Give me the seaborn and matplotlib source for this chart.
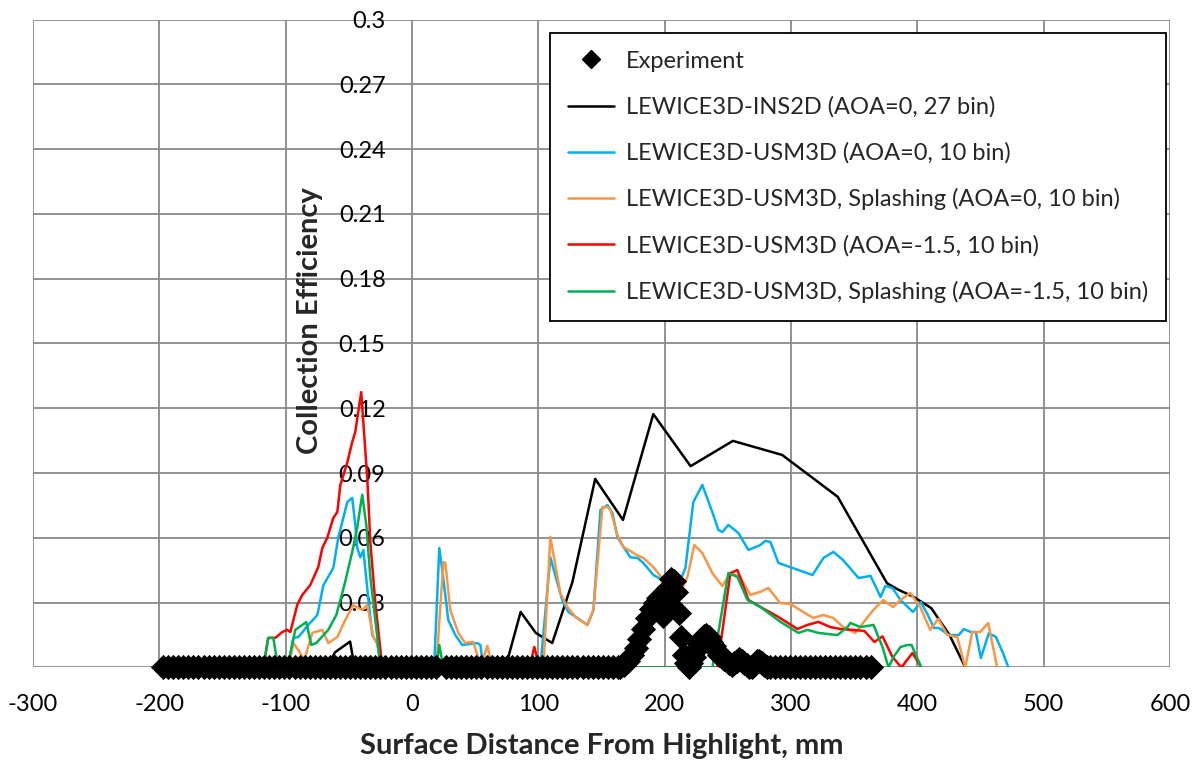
import matplotlib
matplotlib.use("Agg")
import matplotlib.pyplot as plt
import seaborn as sns
import pandas as pd
from matplotlib.lines import Line2D

# ---------------- data ----------------
x_ticks = [-300, -200, -100, 0, 100, 200, 300, 400, 500, 600]
x_tick_labels = ["-300", "-200", "-100", "0", "100", "200", "300", "400", "500", "600"]
y_ticks = [0, 0.03, 0.06, 0.09, 0.12, 0.15, 0.18, 0.21, 0.24, 0.27, 0.3]
y_tick_labels = ["", "0.03", "0.06", "0.09", "0.12", "0.15", "0.18", "0.21", "0.24", "0.27", "0.3"]

labels = ["Experiment",
          "LEWICE3D-INS2D (AOA=0, 27 bin)",
          "LEWICE3D-USM3D (AOA=0, 10 bin)",
          "LEWICE3D-USM3D, Splashing (AOA=0, 10 bin)",
          "LEWICE3D-USM3D (AOA=-1.5, 10 bin)",
          "LEWICE3D-USM3D, Splashing (AOA=-1.5, 10 bin)"]

# Experiment: flat (zero) stations and the measured hump
exp_flat_x = [-197, -193, -189, -185, -181, -177, -173, -169, -165, -161, -157, -153, -149,
              -145, -141, -137, -133, -129, -125, -121, -117, -113, -109, -105, -101, -97,
              -93, -89, -85, -81, -77, -73, -69, -65, -61, -57, -53, -49, -45, -41, -37,
              -33, -29, -25, -21, -17, -13, -9, -5, -1, 3, 7, 11, 15, 19, 27, 31, 35, 39,
              43, 47, 51, 55, 59, 63, 67, 71, 75, 79, 83, 87, 91, 95, 99, 103, 107, 111,
              115, 119, 123, 127, 131, 135, 139, 143, 147, 151, 155, 159, 163,
              287, 291, 295, 299, 303, 307, 311, 315, 319, 323, 327, 331, 335, 339, 343,
              347, 351, 355, 359, 363]
exp_flat_y = [0.0] * len(exp_flat_x)
exp_hump_x = [165, 168, 171, 174, 177, 180, 183, 186, 189, 192, 195, 197, 199, 201, 203,
              205, 207, 209, 211, 213, 215, 217, 219, 221, 223, 225, 227, 229, 231, 233,
              235, 237, 239, 241, 243, 245, 247, 249, 251, 253, 255, 257, 259, 261, 263,
              265, 267, 269, 271, 273, 275, 277, 279, 281, 283]
exp_hump_y = [0.0, 0.001, 0.003, 0.006, 0.009, 0.013, 0.018, 0.023, 0.027, 0.030, 0.032,
              0.028, 0.024, 0.030, 0.037, 0.041, 0.040, 0.035, 0.025, 0.014, 0.006, 0.002,
              0.0, 0.002, 0.005, 0.008, 0.011, 0.013, 0.0145, 0.015, 0.014, 0.012, 0.010,
              0.008, 0.006, 0.005, 0.004, 0.003, 0.002, 0.001, 0.002, 0.003, 0.004, 0.003,
              0.002, 0.001, 0.0, 0.0, 0.001, 0.003, 0.003, 0.002, 0.001, 0.0, 0.0]

ins2d_x = [-67, -61, -49, -46.5, -43, 74, 86, 98, 111, 127, 145, 167, 191, 220.5, 254,
           293, 337, 376, 385, 397, 411, 425.5, 438]
ins2d_y = [0, 0.007, 0.012, 0.0035, 0, 0, 0.0257, 0.016, 0.0113, 0.0396, 0.0873, 0.0683,
           0.1173, 0.0932, 0.1049, 0.0984, 0.079, 0.039, 0.036, 0.0327, 0.0275, 0.015, 0]

usm_x = [-97.8, -93.9, -89.9, -82.1, -74.9, -70.2, -62.3, -58.4, -51.2, -47.3, -44.9, -43.3,
         -40.9, -38.5, -34.6, -31.4, -27.5, -25.1, -23.5, 17.5, 21.6, 24.0, 28.7, 34.3,
         39.8, 51.7, 54.1, 55.7, 57, 101.6, 109.5, 119, 123.8, 130.9, 138.9, 143.6, 149.2,
         154.7, 158.6, 162.6, 167.4, 172.9, 178.5, 183.1, 191.1, 198.2, 212.5, 216.4,
         222.7, 229.8, 237.7, 242.5, 245.7, 250.4, 258.3, 266.3, 275.8, 279.7, 283.7, 290,
         317, 325.7, 333.6, 341.1, 353.5, 363, 370.9, 374.7, 380.3, 386.6, 396.5, 402.8,
         408.3, 413.1, 417, 424.9, 432.8, 436.8, 442.3, 446.3, 450.3, 456.6, 462.2, 467.8,
         472.1]
usm_y = [0, 0.0137, 0.0141, 0.0197, 0.0243, 0.038, 0.046, 0.06, 0.0766, 0.0785, 0.066,
         0.0553, 0.051, 0.0543, 0.032, 0.015, 0.011, 0.0035, 0, 0, 0.0553, 0.045, 0.022,
         0.015, 0.0104, 0.0113, 0.0104, 0.0035, 0, 0, 0.051, 0.031, 0.0257, 0.0229, 0.0197,
         0.0266, 0.0729, 0.0752, 0.0715, 0.0604, 0.0558, 0.051, 0.0507, 0.0484, 0.0428,
         0.0405, 0.0405, 0.046, 0.0766, 0.0845, 0.072, 0.0637, 0.0627, 0.066, 0.0623,
         0.0544, 0.0567, 0.0586, 0.0581, 0.0484, 0.0428, 0.0507, 0.0535, 0.0498, 0.0414,
         0.0424, 0.0326, 0.0377, 0.0368, 0.0313, 0.0257, 0.0303, 0.0243, 0.0183, 0.0183,
         0.015, 0.015, 0.0178, 0.0164, 0.0164, 0.0044, 0.0159, 0.0141, 0.0067, 0]

usm_spl_x = [-97.9, -93.9, -90.0, -85.3, -78.9, -71.0, -66.3, -59.1, -52.8, -46.5, -39.4,
             -35.4, -30.6, -27.5, -24.3, 19.2, 24.8, 26.4, 30.3, 36.7, 42.2, 48.5, 52.5,
             54.1, 59.6, 63.6, 104, 109.5, 117.4, 123, 129.3, 138.8, 143.6, 150.7, 154.7,
             157.1, 162.6, 167.4, 179.3, 183.1, 191.1, 199, 212.5, 218, 223.5, 229.8, 237.7,
             245.7, 252, 259.9, 267.8, 275.8, 282, 291.5, 299.4, 307.3, 317.6, 325.6, 333.4,
             341.4, 350.9, 365.1, 373, 380.9, 386.5, 394.4, 402.3, 410.2, 416.6, 423.7,
             431.6, 437.9, 443.5, 449.8, 456.1, 463.2]
usm_spl_y = [0, 0.0113, 0.0081, 0.0035, 0.016, 0.0174, 0.0113, 0.0141, 0.022, 0.0289,
             0.0266, 0.0289, 0.0141, 0.0113, 0, 0, 0.0488, 0.0484, 0.0266, 0.016, 0.0113,
             0.0118, 0.0044, 0, 0.01, 0, 0, 0.0604, 0.0344, 0.028, 0.0234, 0.0197, 0.0266,
             0.0743, 0.0743, 0.0729, 0.0613, 0.0558, 0.0516, 0.0507, 0.0465, 0.0405, 0.035,
             0.0419, 0.0567, 0.053, 0.0437, 0.0377, 0.0437, 0.0419, 0.0336, 0.035, 0.0368,
             0.0298, 0.0294, 0.0266, 0.0229, 0.0243, 0.0229, 0.0187, 0.016, 0.0266, 0.0312,
             0.028, 0.0312, 0.0345, 0.028, 0.0174, 0.0225, 0.015, 0.0141, 0, 0.0164, 0.0164,
             0.0206, 0]

usm15_x = [-117.7, -113.8, -108.2, -102.7, -98.7, -96.3, -90.8, -86.8, -80.5, -74.2, -71.0,
           -67.1, -62.3, -59.1, -56.7, -51.2, -47.3, -44.9, -40.2, -35.4, -33.0, -29.1,
           -23.5, 93, 96.8, 101, 241.7, 252, 257.6, 266.3, 275.8, 290, 305.1, 313, 321.7,
           331.2, 339.1, 348.6, 358.1, 366, 372.4, 380.3, 387.4, 396.1, 403.2]
usm15_y = [0, 0.0137, 0.0137, 0.0164, 0.0174, 0.0164, 0.029, 0.0336, 0.0382, 0.0465,
           0.0553, 0.06, 0.0692, 0.072, 0.0845, 0.095, 0.1044, 0.109, 0.1275, 0.0877,
           0.0581, 0.0303, 0, 0, 0.0095, 0, 0, 0.0437, 0.0451, 0.0313, 0.028, 0.0234,
           0.0178, 0.0197, 0.0211, 0.0187, 0.0178, 0.0174, 0.0169, 0.0118, 0.0144, 0.0049,
           0, 0.0067, 0]

usm15_spl_x = [-117.7, -113.8, -109.8, -105.9, -98.7, -92.4, -83.7, -79.7, -75.8, -66.3,
               -59.9, -53.6, -47.3, -43.3, -39.4, -36.2, -33.0, -27.5, -25.1, 19.2, 21.6,
               24.8, 237.8, 250.4, 257.6, 265.5, 275.8, 291.7, 305.9, 313, 321.7, 336.8,
               344.7, 347, 355, 365.3, 372.4, 377.2, 381.2, 386.7, 392.3, 395.4, 403.2]
usm15_spl_y = [0, 0.0137, 0.0137, 0, 0, 0.0174, 0.021, 0.0104, 0.0113, 0.0174, 0.0243,
               0.038, 0.0535, 0.065, 0.08, 0.066, 0.042, 0.0141, 0, 0, 0.0104, 0, 0,
               0.0437, 0.0419, 0.0313, 0.028, 0.0211, 0.016, 0.0174, 0.016, 0.015, 0.0187,
               0.0206, 0.0187, 0.0197, 0.0095, 0, 0.0049, 0.0095, 0.0104, 0.0104, 0]

colors = ["black", "black", "#00B0F0", "#F79646", "#FF0000", "#00B050"]

# ---------------- figure ----------------
sns.set_theme(style="white")
plt.rcParams["font.family"] = ["Lato", "DejaVu Sans"]

fig = plt.figure(figsize=(12, 7.65), dpi=100)
ax = fig.add_axes([0.0275, 0.1275, 0.9475, 0.847])

series = [(ins2d_x, ins2d_y), (usm_x, usm_y), (usm_spl_x, usm_spl_y),
          (usm15_x, usm15_y), (usm15_spl_x, usm15_spl_y)]
for (sx, sy), c in zip(series, colors[1:]):
    df = pd.DataFrame({"x": sx, "y": sy})
    sns.lineplot(data=df, x="x", y="y", ax=ax, color=c, linewidth=1.8,
                 sort=False, estimator=None, legend=False, zorder=3)

exp_df = pd.DataFrame({"x": exp_flat_x + exp_hump_x, "y": exp_flat_y + exp_hump_y})
sns.scatterplot(data=exp_df, x="x", y="y", ax=ax, marker="D", s=165, color="black",
                edgecolor="black", linewidth=0, legend=False, zorder=5, clip_on=False)

ax.set_xlim(-300, 600)
ax.set_ylim(0, 0.3)
ax.set_xticks(x_ticks)
ax.set_xticklabels(x_tick_labels)
ax.set_yticks(y_ticks)
ax.set_yticklabels(y_tick_labels)
ax.grid(True, color="#898989", linewidth=1.3, zorder=0)
ax.set_axisbelow(True)
for s in ax.spines.values():
    s.set_visible(False)
ax.spines["left"].set_position(("data", 0))
ax.tick_params(axis="y", length=0, pad=19, labelsize=17, colors="black")
ax.tick_params(axis="x", length=0, pad=19, labelsize=17, colors="black")

ax.set_xlabel("Surface Distance From Highlight, mm", fontsize=21, fontweight="bold",
              labelpad=13)
ax.set_ylabel("Collection Efficiency", fontsize=21, fontweight="bold")
ax.yaxis.set_label_coords(0.255, 0.536)

handles = [Line2D([], [], marker="D", color="black", linestyle="", markersize=9)]
for c in colors[1:]:
    handles.append(Line2D([], [], color=c, linewidth=1.8))
leg = ax.legend(handles, labels, loc="upper right",
                bbox_to_anchor=(1166 / 1200, 1 - 33 / 765), bbox_transform=fig.transFigure,
                borderaxespad=0, frameon=True, fancybox=False, edgecolor="black",
                framealpha=1, fontsize=17, labelspacing=1.04, handlelength=1.95,
                handletextpad=0.5, borderpad=0.75)
leg.get_frame().set_linewidth(1.3)
leg.set_zorder(10)

fig.savefig("out.png", dpi=100)
